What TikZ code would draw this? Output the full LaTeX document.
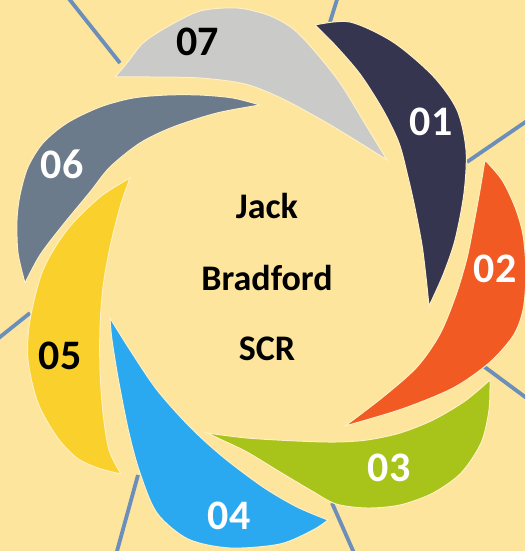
\documentclass[tikz,border=0pt]{standalone}
\usepackage{fontspec}
\setmainfont{Carlito}
\definecolor{bgc}{HTML}{FDE59D}
\definecolor{halo}{HTML}{FFF0C4}
\definecolor{raycol}{HTML}{6B8EBA}
\definecolor{cA}{HTML}{35354F}
\definecolor{cB}{HTML}{F15A22}
\definecolor{cC}{HTML}{A8C31A}
\definecolor{cD}{HTML}{2AA8F0}
\definecolor{cE}{HTML}{F9D02C}
\definecolor{cF}{HTML}{6B7B8C}
\definecolor{cG}{HTML}{CACAC8}
\begin{document}
\begin{tikzpicture}[x=1pt,y=-1pt,
  ray/.style={draw=raycol, line width=3.8pt},
  blade/.style={draw=halo, line width=1pt, line join=miter},
  lbl/.style={font=\fontsize{42}{42}\selectfont\bfseries, inner sep=0pt},
  ctr/.style={font=\fontsize{36}{36}\selectfont\bfseries, inner sep=0pt, anchor=base, text=black}]
\useasboundingbox (0,0) rectangle (525,551);
\fill[bgc] (0,0) rectangle (525,551);
\clip (0,0) rectangle (525,551);
% radiating lines
\coordinate (r1a) at (120,63);  \coordinate (r1b) at (62,-10);
\coordinate (r2a) at (330,22);  \coordinate (r2b) at (340,-10);
\coordinate (r3a) at (467,162); \coordinate (r3b) at (540,112);
\coordinate (r4a) at (482,365); \coordinate (r4b) at (540,408);
\coordinate (r5a) at (332,503); \coordinate (r5b) at (358,562);
\coordinate (r6a) at (138,475); \coordinate (r6b) at (114,562);
\coordinate (r7a) at (30,313);  \coordinate (r7b) at (-10,345);
\foreach \i in {1,...,7} {\draw[ray] (r\i a) -- (r\i b);}
% blades
\path[blade, fill=cA] plot[smooth] coordinates {(315,25) (350,22) (393,42) (433,76) (457,110) (466,150) (464,193) (455,240) (443,275) (429,306)}
  -- plot[smooth] coordinates {(429,306) (426,277) (422,245) (415,208) (408,177) (399,143) (383,110) (360,74) (335,45) (315,25)} -- cycle;
\path[blade, fill=cB] plot[smooth] coordinates {(485,160) (502,180) (515,207) (523,235) (526,273) (523,310) (513,336) (489,363) (453,388) (402,409) (345,426)}
  -- plot[smooth] coordinates {(345,426) (383,397) (417,367) (440,334) (456,295) (467,258) (474,223) (480,190) (485,160)} -- cycle;
\path[blade, fill=cC] plot[smooth] coordinates {(490,380) (489,410) (481,443) (461,473) (433,493) (400,505) (367,508) (336,504) (312,491) (280,472) (247,452) (222,440) (207,433)}
  -- plot[smooth] coordinates {(207,433) (247,438) (297,441) (335,442) (367,440) (400,433) (433,420) (465,401) (490,380)} -- cycle;
\path[blade, fill=cD] plot[smooth] coordinates {(328,520) (313,530) (280,544) (230,548) (188,539) (157,513) (140,473) (129,433) (119,383) (112,340) (110,318)}
  -- plot[smooth] coordinates {(110,318) (130,350) (157,390) (190,427) (223,457) (263,487) (297,507) (328,520)} -- cycle;
\path[blade, fill=cE] plot[smooth] coordinates {(121,474) (98,468) (77,458) (57,437) (38,403) (28,360) (30,320) (43,270) (67,230) (100,197) (130,178)}
  -- plot[smooth] coordinates {(130,178) (120,207) (110,247) (103,287) (100,327) (100,370) (103,413) (109,450) (121,474)} -- cycle;
\path[blade, fill=cF] plot[smooth] coordinates {(25,283) (18,253) (17,220) (20,195) (28,167) (43,143) (67,123) (100,107) (133,98) (167,95) (200,95) (233,98) (260,105)}
  -- plot[smooth] coordinates {(260,105) (217,113) (173,127) (140,143) (110,167) (90,192) (62,226) (40,255) (25,283)} -- cycle;
\path[blade, fill=cG] plot[smooth] coordinates {(115,77) (127,63) (143,43) (167,27) (200,11) (237,8) (268,15) (292,28) (312,48) (340,83) (367,127) (387,160)}
  -- plot[smooth] coordinates {(387,160) (360,143) (327,123) (283,99) (245,84) (200,78) (150,77) (115,77)} -- cycle;
% labels
\node[lbl, text=white] (n01) at (431,121.5) {01};
\node[lbl, text=white] (n02) at (495,269) {02};
\node[lbl, text=white] (n03) at (389,468) {03};
\node[lbl, text=white] (n04) at (229,516) {04};
\node[lbl, text=black] (n05) at (60,356) {05};
\node[lbl, text=white] (n06) at (62,164) {06};
\node[lbl, text=black] (n07) at (197.5,41.5) {07};
% centre text
\node[ctr] (jack) at (267,218) {Jack};
\node[ctr] (brad) at (267,290) {Bradford};
\node[ctr] (scr) at (267,360) {SCR};
\end{tikzpicture}
\end{document}
